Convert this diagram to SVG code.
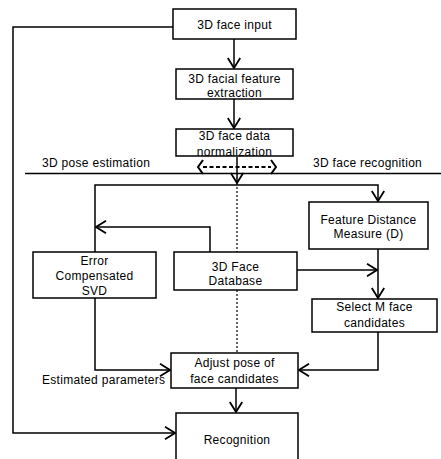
<svg xmlns="http://www.w3.org/2000/svg" width="441" height="459" viewBox="0 0 441 459">
<style>
.box{fill:#fff;stroke:#000;stroke-width:1.5}
.ln{fill:none;stroke:#000;stroke-width:1.5}
.dot{fill:none;stroke:#000;stroke-width:1.2;stroke-dasharray:2,2}
.dash{fill:none;stroke:#000;stroke-width:2;stroke-dasharray:4,2.5}
text{font-family:"Liberation Sans",Arial,sans-serif;font-size:12px;fill:#000;letter-spacing:0.3px}
.c{text-anchor:middle}
</style>
<defs>
<marker id="ah" viewBox="0 0 12 14" refX="11" refY="7" markerWidth="12" markerHeight="14" markerUnits="userSpaceOnUse" orient="auto">
<path d="M1,0.8 L11,7 L1,13.2" fill="none" stroke="#000" stroke-width="1.8"/>
</marker>
</defs>
<rect width="441" height="459" fill="#fff"/>
<g id="connectors">
<path class="ln" d="M173,27 H13 V433 H175" marker-end="url(#ah)"/>
<path class="ln" d="M234,39 V68" marker-end="url(#ah)"/>
<path class="ln" d="M234,99 V128" marker-end="url(#ah)"/>
<path class="ln" d="M237,157 V183" marker-end="url(#ah)"/>
<path class="ln" d="M25,173.5 H441"/>
<path class="dash" d="M203,167 H271"/>
<path class="ln" style="stroke-width:2" d="M203,160 L198,167 L203,174"/>
<path class="ln" style="stroke-width:2" d="M271,160 L276,167 L271,174"/>
<path class="dot" d="M237,183 V252"/>
<path class="dot" d="M237,290 V353"/>
<path class="ln" d="M95,252 V185 H378 V201" marker-end="url(#ah)"/>
<path class="ln" d="M210,252 V227 H96" marker-end="url(#ah)"/>
<path class="ln" d="M297,270 H377" marker-end="url(#ah)"/>
<path class="ln" d="M378,249 V298" marker-end="url(#ah)"/>
<path class="ln" d="M378,332 V370 H299" marker-end="url(#ah)"/>
<path class="ln" d="M95,298 V370 H170" marker-end="url(#ah)"/>
<path class="ln" d="M236,388 V412" marker-end="url(#ah)"/>
</g>
<g id="input"><rect class="box" x="173" y="9" width="123" height="30"/><text class="c" x="234.5" y="28.5">3D face input</text></g>
<g id="feature"><rect class="box" x="176" y="69" width="117" height="30"/><text class="c" x="234.5" y="83">3D facial feature</text><text class="c" x="234.5" y="97">extraction</text></g>
<g id="normalization"><rect class="box" x="176" y="129" width="117" height="27"/><text class="c" x="234.5" y="140">3D face data</text><text class="c" x="234.5" y="155.5">normalization</text></g>
<g id="labels"><text x="42" y="167">3D pose estimation</text><text x="313" y="167">3D face recognition</text><text x="42" y="384">Estimated parameters</text></g>
<g id="fdm"><rect class="box" x="309" y="202" width="119" height="47"/><text class="c" x="368.5" y="224">Feature Distance</text><text class="c" x="368.5" y="238">Measure (D)</text></g>
<g id="svd"><rect class="box" x="33" y="252" width="123" height="46"/><text class="c" x="94.5" y="265">Error</text><text class="c" x="94.5" y="280">Compensated</text><text class="c" x="94.5" y="295">SVD</text></g>
<g id="db"><rect class="box" x="174" y="252" width="123" height="38"/><text class="c" x="235.5" y="271">3D Face</text><text class="c" x="235.5" y="284.5">Database</text></g>
<g id="select"><rect class="box" x="312" y="299" width="125" height="33"/><text class="c" x="374.5" y="310.5">Select M face</text><text class="c" x="374.5" y="326.5">candidates</text></g>
<g id="adjust"><rect class="box" x="171" y="353" width="127" height="35"/><text class="c" x="234.5" y="367">Adjust pose of</text><text class="c" x="234.5" y="383">face candidates</text></g>
<g id="recognition"><rect class="box" x="176" y="413" width="122" height="60"/><text class="c" x="237" y="444">Recognition</text></g>
</svg>
